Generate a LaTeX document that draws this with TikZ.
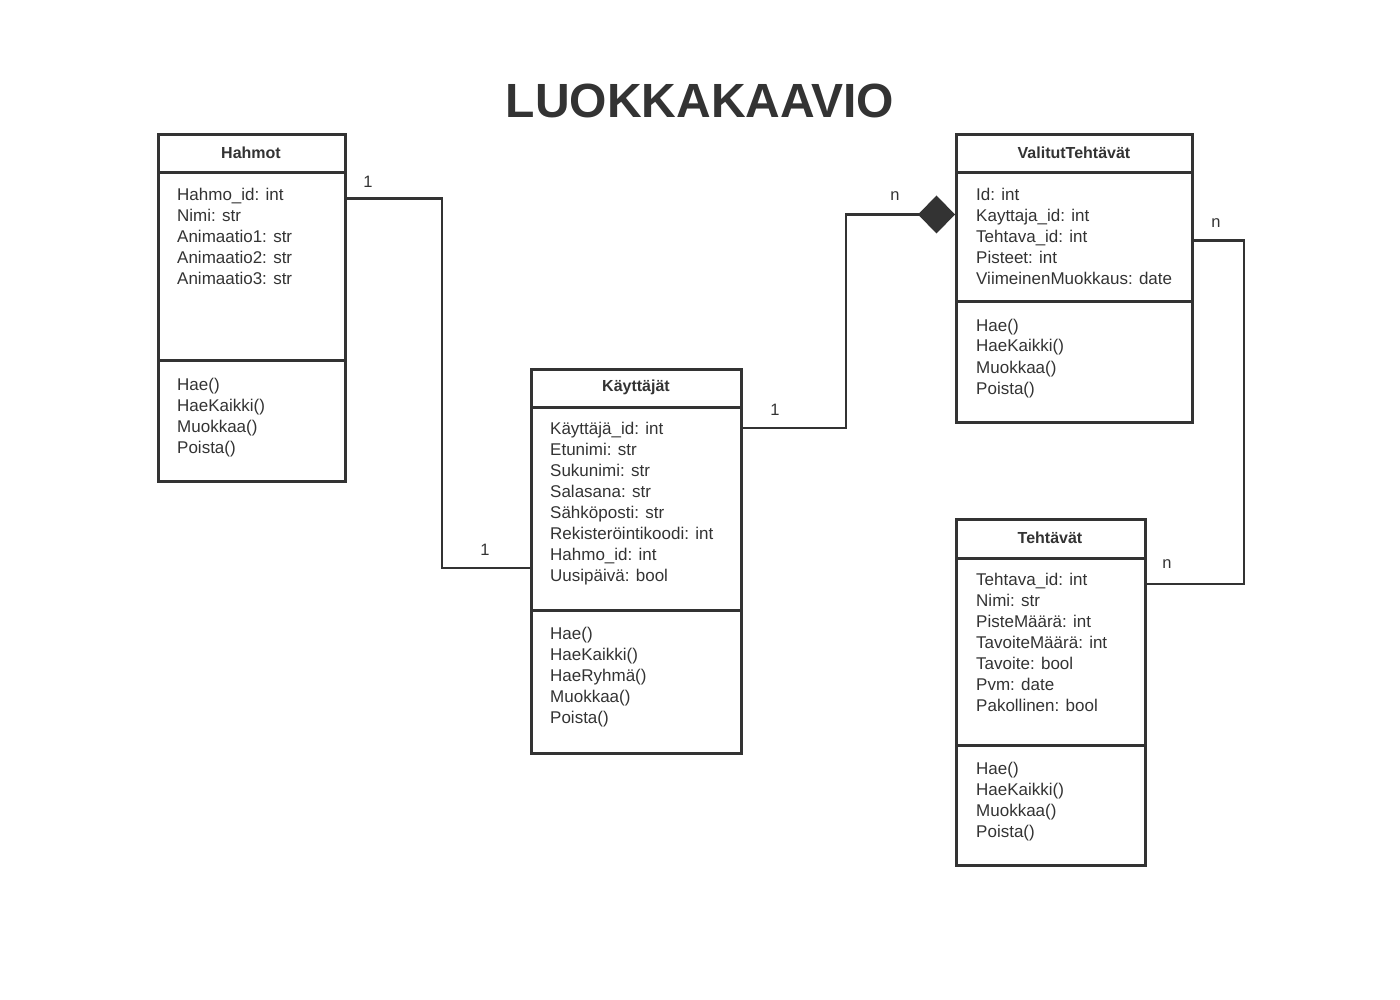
\documentclass[tikz,border=0pt]{standalone}
\usepackage{fontspec}
\setmainfont{Liberation Sans}
\usetikzlibrary{arrows.meta}
\definecolor{ink}{HTML}{333333}

\tikzset{
  classbox/.style={draw=ink,line width=3pt,inner sep=0pt,anchor=north west},
  divider/.style={draw=ink,line width=3pt},
  member/.style={anchor=base west,inner sep=0pt,text=ink,font=\fontsize{17}{20}\selectfont},
  classname/.style={anchor=base,inner sep=0pt,text=ink,font=\fontsize{16}{18}\selectfont\bfseries},
  mult/.style={anchor=base,inner sep=0pt,text=ink,font=\fontsize{16.5}{18}\selectfont},
  link/.style={draw=ink,line width=2.5pt}
}

\begin{document}
\begin{tikzpicture}[x=1pt,y=-1pt]
        \useasboundingbox (0,0) rectangle (1400,1000);

        \node[anchor=base,text=ink,font=\fontsize{48}{56}\selectfont\bfseries] (title) at (700,118) {LUOKKAKAAVIO};

        % class frames
        \begin{scope}[every node/.style={classbox}]
          \node[minimum width=187pt,minimum height=347pt] (hahmot)   at (157,133) {};
          \node[minimum width=210pt,minimum height=384pt] (kayttajat) at (530,368) {};
          \node[minimum width=236pt,minimum height=288pt] (valitut)  at (955,133) {};
          \node[minimum width=189pt,minimum height=346pt] (tehtavat) at (955,518) {};
        \end{scope}

        \draw[divider] (hahmot.west |- 0,173)    -- (hahmot.east |- 0,173);
        \draw[divider] (hahmot.west |- 0,360)    -- (hahmot.east |- 0,360);
        \draw[divider] (kayttajat.west |- 0,407) -- (kayttajat.east |- 0,407);
        \draw[divider] (kayttajat.west |- 0,610) -- (kayttajat.east |- 0,610);
        \draw[divider] (valitut.west |- 0,173)   -- (valitut.east |- 0,173);
        \draw[divider] (valitut.west |- 0,302)   -- (valitut.east |- 0,302);
        \draw[divider] (tehtavat.west |- 0,558)  -- (tehtavat.east |- 0,558);
        \draw[divider] (tehtavat.west |- 0,745)  -- (tehtavat.east |- 0,745);

        % class names
        \begin{scope}[every node/.style={classname}]
          \node (hahmotname)    at (251,158.5)  {Hahmot};
          \node (kayttajatname) at (636,391.5)  {Käyttäjät};
          \node (valitutname)   at (1074,158.5) {ValitutTehtävät};
          \node (tehtavatname)  at (1050,543.5) {Tehtävät};
        \end{scope}

        % members
        \begin{scope}[every node/.style={member}]
          \node (h1) at (177,201) {Hahmo\_id: int};
          \node (h2) at (177,222) {Nimi: str};
          \node (h3) at (177,243) {Animaatio1: str};
          \node (h4) at (177,264) {Animaatio2: str};
          \node (h5) at (177,285) {Animaatio3: str};
          \node (h6) at (177,390) {Hae()};
          \node (h7) at (177,411) {HaeKaikki()};
          \node (h8) at (177,432) {Muokkaa()};
          \node (h9) at (177,453) {Poista()};

          \node (k1)  at (550,434) {Käyttäjä\_id: int};
          \node (k2)  at (550,455) {Etunimi: str};
          \node (k3)  at (550,476) {Sukunimi: str};
          \node (k4)  at (550,497) {Salasana: str};
          \node (k5)  at (550,518) {Sähköposti: str};
          \node (k6)  at (550,539) {Rekisteröintikoodi: int};
          \node (k7)  at (550,560) {Hahmo\_id: int};
          \node (k8)  at (550,581) {Uusipäivä: bool};
          \node (k9)  at (550,639) {Hae()};
          \node (k10) at (550,660) {HaeKaikki()};
          \node (k11) at (550,681) {HaeRyhmä()};
          \node (k12) at (550,702) {Muokkaa()};
          \node (k13) at (550,723) {Poista()};

          \node (v1) at (976,201) {Id: int};
          \node (v2) at (976,222) {Kayttaja\_id: int};
          \node (v3) at (976,243) {Tehtava\_id: int};
          \node (v4) at (976,264) {Pisteet: int};
          \node (v5) at (976,285) {ViimeinenMuokkaus: date};
          \node (v6) at (976,331) {Hae()};
          \node (v7) at (976,352) {HaeKaikki()};
          \node (v8) at (976,373) {Muokkaa()};
          \node (v9) at (976,394) {Poista()};

          \node (t1)  at (976,585) {Tehtava\_id: int};
          \node (t2)  at (976,606) {Nimi: str};
          \node (t3)  at (976,627) {PisteMäärä: int};
          \node (t4)  at (976,648) {TavoiteMäärä: int};
          \node (t5)  at (976,669) {Tavoite: bool};
          \node (t6)  at (976,690) {Pvm: date};
          \node (t7)  at (976,711) {Pakollinen: bool};
          \node (t8)  at (976,774) {Hae()};
          \node (t9)  at (976,795) {HaeKaikki()};
          \node (t10) at (976,816) {Muokkaa()};
          \node (t11) at (976,837) {Poista()};
        \end{scope}

        % associations
        \draw[link] (hahmot.east |- 0,198.5) -- (442,198.5) -- (442,568) -- (kayttajat.west |- 0,568);
        \draw[link,-{Diamond[length=37pt,width=38pt]}] (kayttajat.east |- 0,428) -- (846,428) -- (846,214.5) -- (valitut.west |- 0,214.5);
        \draw[link] (valitut.east |- 0,240.5) -- (1244,240.5) -- (1244,584) -- (tehtavat.east |- 0,584);

        % multiplicities
        \begin{scope}[every node/.style={mult}]
          \node (m1) at (368,188)  {1};
          \node (m2) at (485,555)  {1};
          \node (m3) at (775,415)  {1};
          \node (m4) at (895,200.5) {n};
          \node (m5) at (1216,227.5) {n};
          \node (m6) at (1167,568.5) {n};
        \end{scope}

      \end{tikzpicture}
\end{document}
